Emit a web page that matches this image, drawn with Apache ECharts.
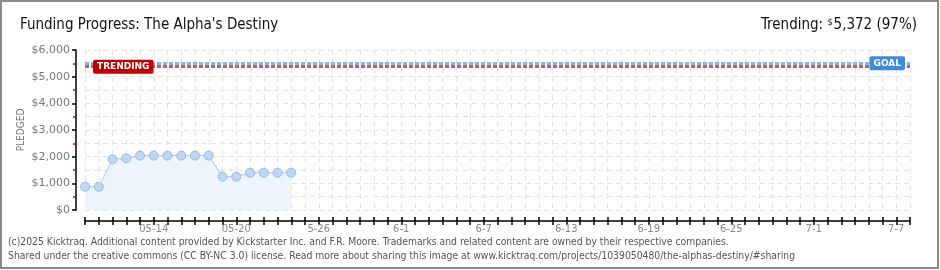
<!DOCTYPE html>
<html><head><meta charset="utf-8">
<script src="https://cdn.jsdelivr.net/npm/echarts@6/dist/echarts.min.js"></script>
<style>html,body{margin:0;padding:0;background:#fff}#c{width:940px;height:270px}</style>
</head><body><div id="c"></div>
<script>
const dates = ['05-09','05-10','05-11','05-12','05-13','05-14','05-15','05-16','05-17','05-18',
  '05-19','05-20','05-21','05-22','05-23','05-24','05-25','05-26','05-27','05-28','05-29','05-30','05-31',
  '06-01','06-02','06-03','06-04','06-05','06-06','06-07','06-08','06-09','06-10','06-11','06-12','06-13',
  '06-14','06-15','06-16','06-17','06-18','06-19','06-20','06-21','06-22','06-23','06-24','06-25','06-26',
  '06-27','06-28','06-29','06-30','07-01','07-02','07-03','07-04','07-05','07-06','07-07','07-08'];
const tickLabels = {'05-14':'05-14','05-20':'05-20','05-26':'5-26','06-01':'6-1','06-07':'6-7',
  '06-13':'6-13','06-19':'6-19','06-25':'6-25','07-01':'7-1','07-07':'7-7'};
const pledged = [875,875,1900,1940,2040,2040,2040,2040,2040,2040,1250,1250,1400,1400,1400,1400];
const goal = 5500;
const trending = 5372;
const yTicks = [0,1000,2000,3000,4000,5000,6000];

const chart = echarts.init(document.getElementById('c'), null, {renderer:'canvas'});
const narrow = '"Liberation Sans Narrow", "DejaVu Sans Condensed", sans-serif';
const gridLine = {show:true, lineStyle:{color:'#e4e4e4', type:[5,4], width:1}};
chart.setOption({
  animation:false,
  title:[
    {text:"Funding Progress: The Alpha's Destiny", left:15, top:13,
     textStyle:{fontFamily:narrow, fontSize:15, fontWeight:'normal', color:'#111'}},
    {text:'Trending: {s|$}5,372 (97%)', right:18, top:13,
     textStyle:{fontFamily:narrow, fontSize:15, fontWeight:'normal', color:'#111',
       rich:{s:{fontFamily:narrow, fontSize:9, color:'#111', padding:[0,1,6,0]}}}}
  ],
  grid:{left:85, right:30, top:50, bottom:60},
  xAxis:[{
    type:'category', data:dates, boundaryGap:false, offset:11,
    axisLine:{onZero:false, lineStyle:{color:'#000', width:1.5}},
    axisTick:{show:true, interval:0, length:4, lineStyle:{color:'#000', width:1.5}},
    axisLabel:{interval:0, formatter:v=>tickLabels[v]||'', color:'#888', fontSize:10,
      fontFamily:'"DejaVu Sans", sans-serif', margin:3},
    splitLine:Object.assign({interval:0}, gridLine)
  },{
    type:'category', data:dates, boundaryGap:false, offset:11, position:'bottom',
    axisLine:{show:false, onZero:false},
    axisTick:{show:true, inside:true, interval:0, length:4, lineStyle:{color:'#000', width:1.5}},
    axisLabel:{show:false}, splitLine:{show:false}
  }],
  yAxis:{
    type:'value', min:yTicks[0], max:yTicks[yTicks.length-1], interval:1000, offset:9,
    name:'PLEDGED', nameLocation:'middle', nameRotate:90, nameGap:50, nameMoveOverlap:false,
    nameTextStyle:{color:'#777', fontSize:10, fontFamily:'"DejaVu Sans Condensed", sans-serif'},
    axisLine:{show:true, lineStyle:{color:'#000', width:1.5}},
    axisTick:{show:true, length:4, lineStyle:{color:'#000', width:1.5}},
    minorTick:{show:true, splitNumber:2, length:3, lineStyle:{color:'#e00000', width:1.5}},
    axisLabel:{color:'#777', fontSize:11, fontFamily:'"DejaVu Sans", sans-serif', margin:6,
      formatter:v=>'$'+v.toLocaleString('en-US')},
    splitLine:gridLine,
    minorSplitLine:{show:true, lineStyle:{color:'#e4e4e4', type:[5,4], width:1}}
  },
  series:[{
    type:'line', data:pledged, symbol:'circle', symbolSize:9,
    lineStyle:{color:'#a9c9ee', width:1},
    itemStyle:{color:'#bcd8f6', borderColor:'#97b9de', borderWidth:1},
    areaStyle:{color:'#edf4fc', opacity:1},
    markLine:{
      silent:true, symbol:'none',
      data:[
        {yAxis:goal, lineStyle:{color:'#8ab6ea', width:3, type:[4,2]},
         label:{show:true, position:'insideEnd', distance:5, formatter:'GOAL', color:'#fff',
           fontSize:9, fontWeight:'bold', fontFamily:'"DejaVu Sans", sans-serif',
           backgroundColor:'#3d8bdb', borderRadius:2, padding:[3,4,2,4]}},
        {yAxis:trending, lineStyle:{color:'#d45a5a', width:3, type:[4,2]},
         label:{show:true, position:'insideStart', distance:8, formatter:'TRENDING', color:'#fff',
           fontSize:9, fontWeight:'bold', fontFamily:'"DejaVu Sans", sans-serif',
           backgroundColor:'#c00000', borderRadius:2, padding:[3,4,2,4]}}
      ]
    }
  }],
  graphic:[
    {type:'rect', silent:true, shape:{x:1, y:1, width:937, height:267},
     style:{fill:'none', stroke:'#8a8a8a', lineWidth:2}},
    {type:'text', left:8, top:237, style:{text:'(c)2025 Kicktraq. Additional content provided by Kickstarter Inc. and F.R. Moore. Trademarks and related content are owned by their respective companies.',
      fill:'#555', fontSize:10.3, fontFamily:narrow}},
    {type:'text', left:8, top:251, style:{text:'Shared under the creative commons (CC BY-NC 3.0) license. Read more about sharing this image at www.kicktraq.com/projects/1039050480/the-alphas-destiny/#sharing',
      fill:'#555', fontSize:10.3, fontFamily:narrow}}
  ]
});
</script></body></html>
